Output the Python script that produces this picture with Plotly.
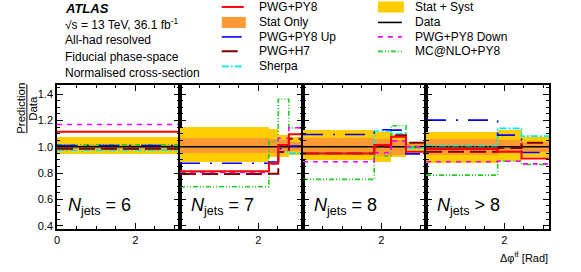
import math
import plotly.graph_objects as go

PI = math.pi

# ---------------- data ----------------
panel_labels = ["<i>N</i><sub>jets</sub> = 6", "<i>N</i><sub>jets</sub> = 7",
                "<i>N</i><sub>jets</sub> = 8", "<i>N</i><sub>jets</sub> > 8"]

edges_6 = [0, PI]
edges_7 = [0, 2.27, 2.51, 2.78, PI]
edges_8 = [0, 1.82, 2.25, 2.63, PI]
edges_gt8 = [0, 1.83, 2.44, PI]

pwg_py8 = [[1.115], [0.815, 0.873, 1.013, 1.095], [0.950, 1.013, 1.076, 0.963], [0.983, 0.962, 0.912]]
pwg_py8_up = [[1.010], [0.875, 0.885, 0.985, 1.005], [1.094, 1.130, 1.127, 0.946], [1.203, 1.089, 0.957]]
pwg_py8_down = [[1.170], [0.805, 0.870, 1.065, 1.145], [0.886, 0.955, 1.045, 1.000], [0.886, 0.890, 0.870]]
pwg_h7 = [[0.985], [0.793, 0.795, 0.960, 1.062], [0.950, 1.000, 1.088, 1.030], [0.962, 0.990, 1.030]]
sherpa = [[0.975], [0.810, 0.870, 0.960, 0.950], [0.955, 1.120, 1.100, 0.990], [1.008, 1.140, 1.081]]
mcnlo_py8 = [[1.015], [0.696, 1.040, 1.362, 1.144], [0.752, 0.930, 1.160, 1.000], [0.785, 0.890, 0.866]]
data_ratio = [[1.0], [1.0, 1.0, 1.0, 1.0], [1.0, 1.0, 1.0, 1.0], [1.0, 1.0, 1.0]]

syst_lo = [[0.945], [0.886, 0.920, 0.925, 0.935], [0.900, 0.886, 0.924, 0.965], [0.874, 0.890, 0.924]]
syst_hi = [[1.075], [1.152, 1.135, 1.090, 1.075], [1.127, 1.114, 1.090, 1.040], [1.114, 1.125, 1.076]]
stat_lo = [[0.985], [0.950, 0.955, 0.960, 0.965], [0.950, 0.935, 0.940, 0.980], [0.937, 0.950, 0.960]]
stat_hi = [[1.015], [1.064, 1.060, 1.050, 1.040], [1.064, 1.060, 1.050, 1.020], [1.056, 1.050, 1.040]]

edges_all = [edges_6, edges_7, edges_8, edges_gt8]

y_ticks = [0.4, 0.6, 0.8, 1.0, 1.2, 1.4]
x_ticks_first = [0, 2]
x_ticks_other = [2]

# ---------------- styles ----------------
FONT = "Liberation Sans, Arial, Helvetica, sans-serif"
C_SYST = "#FFCC00"
C_STAT = "#FF9933"
series = [
    ("Data", data_ratio, "#000000", "solid", 1.6),
    ("MC@NLO+PY8", mcnlo_py8, "#22CC22", "5px,2px,1px,2px,1px,2px", 1.6),
    ("Sherpa", sherpa, "#00EEEE", "7px,2px,2px,2px", 1.6),
    ("PWG+H7", pwg_h7, "#800000", "16px,6px", 2),
    ("PWG+PY8 Down", pwg_py8_down, "#FF00FF", "5px,5px", 1.6),
    ("PWG+PY8 Up", pwg_py8_up, "#0000FF", "20px,10px,2px,10px", 1.6),
    ("PWG+PY8", pwg_py8, "#FF0000", "solid", 2),
]

fig = go.Figure()

W, H = 581, 272
L, R, T, B = 57.4, 32, 84.7, 43
PW = W - L - R
PH = H - T - B


def px_x(px):
    return (px - L) / PW


def px_y(py):
    return (H - B - py) / PH


for i in range(4):
    xa = "x" if i == 0 else f"x{i+1}"
    ya = "y" if i == 0 else f"y{i+1}"
    e = edges_all[i]
    centers = [(e[k] + e[k + 1]) / 2 for k in range(len(e) - 1)]
    widths = [e[k + 1] - e[k] for k in range(len(e) - 1)]
    fig.add_trace(go.Bar(x=centers, width=widths, base=syst_lo[i],
                         y=[h - l for h, l in zip(syst_hi[i], syst_lo[i])],
                         marker=dict(color=C_SYST, line=dict(width=0)),
                         xaxis=xa, yaxis=ya, showlegend=False, hoverinfo="skip"))
    fig.add_trace(go.Bar(x=centers, width=widths, base=stat_lo[i],
                         y=[h - l for h, l in zip(stat_hi[i], stat_lo[i])],
                         marker=dict(color=C_STAT, line=dict(width=0)),
                         xaxis=xa, yaxis=ya, showlegend=False, hoverinfo="skip"))
    for name, vals, col, dash, lw in series:
        v = vals[i]
        fig.add_trace(go.Scatter(x=e, y=v + [v[-1]], mode="lines",
                                 line=dict(color=col, dash=dash, width=lw, shape="hv"),
                                 xaxis=xa, yaxis=ya, showlegend=False, name=name))

axis_common = dict(showline=True, linecolor="black", linewidth=1.5, mirror="ticks",
                   ticks="inside", tickcolor="black", tickwidth=1, showgrid=False,
                   zeroline=False, tickfont=dict(family=FONT, size=11, color="black"))

for i in range(4):
    xs = "xaxis" if i == 0 else f"xaxis{i+1}"
    ys = "yaxis" if i == 0 else f"yaxis{i+1}"
    ya = "y" if i == 0 else f"y{i+1}"
    xa = "x" if i == 0 else f"x{i+1}"
    fig.layout[xs] = dict(domain=[i * 0.25, (i + 1) * 0.25], range=[0, PI], anchor=ya,
                          tickmode="array",
                          tickvals=x_ticks_first if i == 0 else x_ticks_other,
                          ticklen=6,
                          minor=dict(dtick=0.5, tick0=0, ticklen=3, ticks="inside",
                                     tickcolor="black", showgrid=False),
                          **axis_common)
    fig.layout[ys] = dict(domain=[0, 1], range=[0.375, 1.47], anchor=xa,
                          tickmode="array", tickvals=y_ticks, tickformat=".1f",
                          showticklabels=(i == 0), ticklen=6,
                          minor=dict(dtick=0.05, tick0=0, ticklen=3, ticks="inside",
                                     tickcolor="black", showgrid=False),
                          **axis_common)
    fig.add_annotation(text=panel_labels[i], xref=f"{xa} domain", yref=f"{ya} domain",
                       x=0.07, y=0.155, xanchor="left", yanchor="middle", showarrow=False,
                       font=dict(family=FONT, size=18, color="black"))

annotations = []
shapes = []

# top-left text block
txt = [("<b><i>ATLAS</i></b>", 8, 13),
       ("√s = 13 TeV, 36.1 fb<sup>-1</sup>", 24, 12),
       ("All-had resolved", 40, 12),
       ("Fiducial phase-space", 56.7, 12),
       ("Normalised cross-section", 72.7, 12)]
for t, yy, fs in txt:
    annotations.append(dict(text=t, xref="paper", yref="paper", x=px_x(63), y=px_y(yy),
                            xanchor="left", yanchor="middle", showarrow=False,
                            font=dict(family=FONT, size=fs, color="black")))

# legend (two columns)
rows = [6.5, 22, 36.5, 51, 66]
leg1 = [("PWG+PY8", "line", "#FF0000", "solid", 2),
        ("Stat Only", "box", C_STAT, None, 0),
        ("PWG+PY8 Up", "line", "#0000FF", "20px,10px,2px,10px", 1.6),
        ("PWG+H7", "line", "#800000", "16px,6px", 2),
        ("Sherpa", "line", "#00EEEE", "7px,2px,2px,2px", 1.6)]
leg2 = [("Stat + Syst", "box", C_SYST, None, 0),
        ("Data", "line", "#000000", "solid", 1.6),
        ("PWG+PY8 Down", "line", "#FF00FF", "5px,5px", 1.6),
        ("MC@NLO+PY8", "line", "#22CC22", "5px,2px,1px,2px,1px,2px", 1.6)]
for entries, x0, x1, xt in [(leg1, 222, 244, 257), (leg2, 378, 402, 413)]:
    for (name, kind, col, dash, lw), yy in zip(entries, rows):
        if kind == "box":
            shapes.append(dict(type="rect", xref="paper", yref="paper",
                               x0=px_x(x0), x1=px_x(x1 + 2), y0=px_y(yy - 5.5), y1=px_y(yy + 5.5),
                               fillcolor=col, line=dict(width=0)))
        else:
            shapes.append(dict(type="line", xref="paper", yref="paper",
                               x0=px_x(x0), x1=px_x(x1), y0=px_y(yy), y1=px_y(yy),
                               line=dict(color=col, width=lw, dash=dash)))
        annotations.append(dict(text=name, xref="paper", yref="paper", x=px_x(xt), y=px_y(yy),
                                xanchor="left", yanchor="middle", showarrow=False,
                                font=dict(family=FONT, size=12, color="black")))

# y-axis title as vertical fraction
annotations.append(dict(text="Prediction", xref="paper", yref="paper", x=px_x(21.5), y=px_y(108.5),
                        xanchor="center", yanchor="middle", textangle=-90, showarrow=False,
                        font=dict(family=FONT, size=11.5, color="black")))
annotations.append(dict(text="Data", xref="paper", yref="paper", x=px_x(33.5), y=px_y(108.5),
                        xanchor="center", yanchor="middle", textangle=-90, showarrow=False,
                        font=dict(family=FONT, size=11.5, color="black")))
shapes.append(dict(type="line", xref="paper", yref="paper", x0=px_x(27.3), x1=px_x(27.3),
                   y0=px_y(84), y1=px_y(133), line=dict(color="black", width=1)))

# x-axis title
annotations.append(dict(text="Δφ<sup>tt̄</sup> [Rad]", xref="paper", yref="paper",
                        x=px_x(549.5), y=px_y(257), xanchor="right", yanchor="middle",
                        showarrow=False, font=dict(family=FONT, size=11, color="black")))

for a in annotations:
    fig.add_annotation(**a)
for s in shapes:
    fig.add_shape(**s)

fig.update_layout(width=W, height=H, margin=dict(l=L, r=R, t=T, b=B, pad=0),
                  paper_bgcolor="white", plot_bgcolor="white", barmode="overlay",
                  bargap=0, showlegend=False, font=dict(family=FONT, color="black"))

fig.write_html("out.html", config={"displayModeBar": False},
               post_script="document.body.style.margin='0px';")
